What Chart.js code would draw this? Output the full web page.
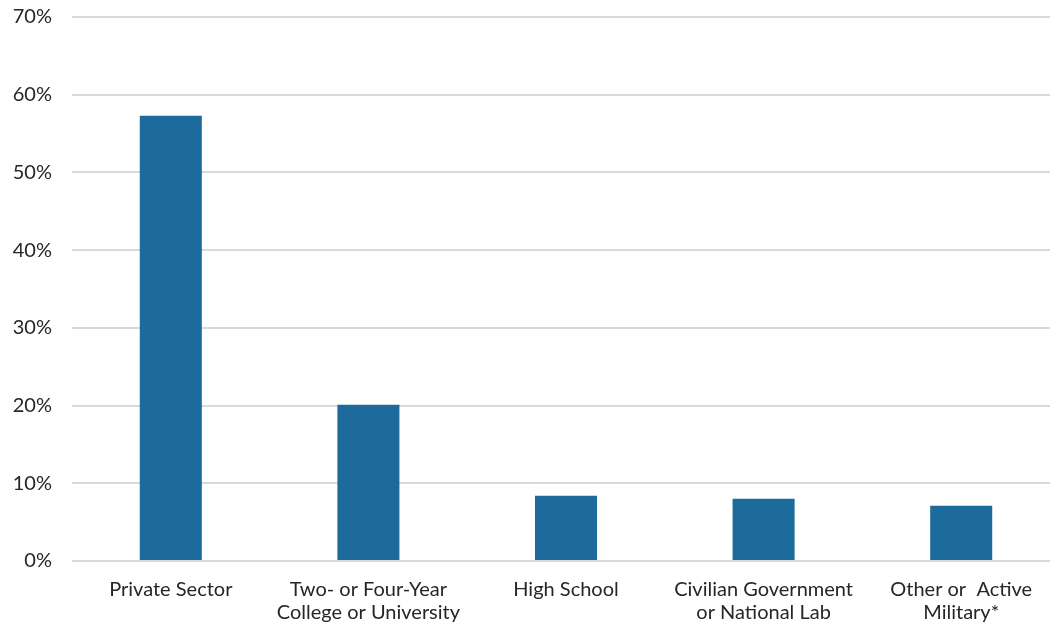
<!DOCTYPE html>
<html>
<head>
<meta charset="utf-8">
<script src="https://cdn.jsdelivr.net/npm/chart.js@4.4.0/dist/chart.umd.min.js"></script>
<style>
  html, body { margin: 0; padding: 0; background: #fff; overflow: hidden; }
  #wrap { width: 1060px; height: 624px; }
</style>
</head>
<body>
<div id="wrap"><canvas id="grafico"></canvas></div>
<script>
// Datos
const categorias = [
  ['Private Sector'],
  ['Two- or Four-Year', 'College or University'],
  ['High School'],
  ['Civilian Government', 'or National Lab'],
  ['Other or  Active', 'Military*']
];
const porcentajes = [57.3, 20.1, 8.4, 8.0, 7.1];
const ticksY = [0, 10, 20, 30, 40, 50, 60, 70];

const fuente = "Lato, 'Open Sans', sans-serif";

var ctx = document.getElementById('grafico').getContext('2d');
var grafico = new Chart(ctx, {
  type: 'bar',
  data: {
    labels: categorias,
    datasets: [{
      data: porcentajes,
      backgroundColor: '#1c6b9c',
      categoryPercentage: 1,
      barPercentage: 0.314
    }]
  },
  options: {
    responsive: true,
    maintainAspectRatio: false,
    animation: false,
    layout: { padding: { top: 17, left: 0, right: 0, bottom: 0 } },
    plugins: {
      legend: { display: false },
      tooltip: { enabled: false }
    },
    scales: {
      x: {
        afterFit: (axis) => { axis.height = 63; },
        grid: { display: false },
        border: { display: false },
        ticks: {
          color: '#262626',
          padding: 9,
          maxRotation: 0,
          autoSkip: false,
          font: { family: fuente, size: 20, lineHeight: 1.15 }
        }
      },
      y: {
        min: 0,
        max: 70,
        afterBuildTicks: (axis) => { axis.ticks = ticksY.map(v => ({ value: v })); },
        afterFit: (axis) => { axis.width = 72; axis.paddingTop = 0; axis.paddingBottom = 0; },
        grid: { color: '#d9d9d9', lineWidth: 2, drawTicks: false },
        border: { display: false },
        ticks: {
          color: '#262626',
          padding: 20,
          font: { family: fuente, size: 20 },
          callback: (v) => v + '%'
        }
      }
    }
  }
});
</script>
</body>
</html>
